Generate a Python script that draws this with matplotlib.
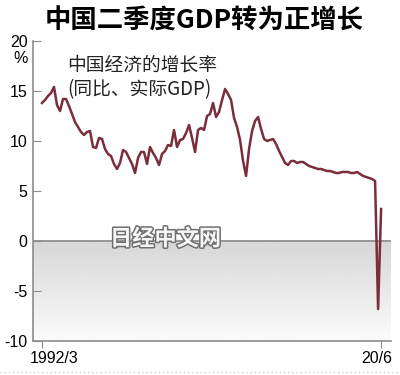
"""China quarterly real GDP growth (YoY), 1992Q1-2020Q2."""

import matplotlib

matplotlib.use("Agg")
import matplotlib.pyplot as plt
import matplotlib.patheffects as pe
import matplotlib.transforms as mtransforms
import numpy as np

TITLE = "中国二季度GDP转为正增长"
SUBTITLE = "中国经济的增长率\n(同比、实际GDP)"
WATERMARK = "日经中文网"

# quarterly YoY growth, % (1992Q1 .. 2020Q2)
growth = [
    13.8, 14.1, 14.5, 14.8, 15.4, 13.6, 13.0, 14.2, 14.2, 13.5,
    12.7, 11.9, 11.4, 10.9, 10.6, 10.9, 11.0, 9.4, 9.3, 10.3,
    10.2, 9.2, 8.7, 8.5, 7.7, 7.2, 7.8, 9.1, 8.9, 8.3,
    7.7, 6.8, 8.3, 8.9, 8.9, 7.7, 9.4, 8.8, 8.3, 7.6,
    8.7, 9.0, 9.6, 9.5, 11.1, 9.4, 10.1, 10.2, 10.8, 11.6,
    10.3, 8.9, 11.1, 11.3, 11.1, 12.5, 12.7, 13.8, 12.4, 12.9,
    14.1, 15.2, 14.7, 14.1, 12.3, 11.4, 10.1, 8.0, 6.5, 9.2,
    11.0, 12.0, 12.4, 11.2, 10.2, 10.0, 10.1, 10.2, 9.7, 9.0,
    8.4, 7.8, 7.6, 8.0, 8.0, 7.8, 7.9, 7.9, 7.7, 7.5,
    7.4, 7.3, 7.2, 7.2, 7.1, 7.0, 7.0, 6.9, 6.8, 6.8,
    6.9, 6.9, 6.9, 6.8, 6.8, 6.9, 6.7, 6.5, 6.4, 6.3,
    6.2, 6.0, -6.8, 3.2,
]
y_ticks = [-10, -5, 0, 5, 10, 15, 20]
x_tick_labels = ["1992/3", "20/6"]

LINE_COLOR = "#7b2d3b"
AXIS_COLOR = "#8c8c8c"

plt.rcParams["font.family"] = ["Liberation Sans", "Noto Sans CJK SC", "DejaVu Sans"]

quarters = np.arange(len(growth))

fig = plt.figure(figsize=(4.0, 3.75), dpi=100)
ax = fig.add_axes([0.0825, 0.0907, 0.895, 0.80])

# shaded negative zone, darker near zero
grad = np.linspace(0.84, 0.985, 256).reshape(-1, 1)
ax.imshow(
    grad,
    cmap="gray",
    vmin=0,
    vmax=1,
    aspect="auto",
    extent=(-3, 116.3, -10, 0),
    origin="upper",
    zorder=0,
)
ax.axhline(0, color=AXIS_COLOR, lw=1.2, zorder=1)

ax.plot(quarters, growth, color=LINE_COLOR, lw=1.8, solid_joinstyle="round", zorder=3)

ax.set_xlim(-3, 116.3)
ax.set_ylim(-10, 20)

for side in ("top", "right"):
    ax.spines[side].set_visible(False)
for side in ("left", "bottom"):
    ax.spines[side].set_color(AXIS_COLOR)
    ax.spines[side].set_linewidth(1.2)

ax.set_yticks(y_ticks)
ax.set_yticklabels([str(v) for v in y_ticks])
ax.tick_params(axis="y", direction="in", length=6, color=AXIS_COLOR, labelsize=11.5, pad=4)

ax.set_xticks([0, len(growth) - 1])
ax.set_xticklabels(x_tick_labels)
ax.tick_params(axis="x", direction="out", length=5, color=AXIS_COLOR, labelsize=11.5, pad=2)
shifts = [12 / 72, -4.5 / 72]
for lbl, dx in zip(ax.get_xticklabels(), shifts):
    lbl.set_transform(lbl.get_transform() + mtransforms.ScaledTranslation(dx * 0.72, 0, fig.dpi_scale_trans))

ax.text(-0.034, 0.94, "%", transform=ax.transAxes, ha="center", va="center", fontsize=11.5)

fig.text(0.51, 0.945, TITLE, ha="center", va="center", fontsize=19,
         fontweight="bold", family=["Noto Sans CJK SC", "DejaVu Sans"])
ax.text(0.095, 0.955, SUBTITLE, transform=ax.transAxes, ha="left", va="top",
        fontsize=13.5, linespacing=1.2, family=["Noto Sans CJK SC", "DejaVu Sans"], color="#222222")

ax.text(0.215, 0.34, WATERMARK, transform=ax.transAxes, ha="left", va="center",
        fontsize=16, fontweight="bold", color="#f6f6f6",
        family=["Noto Sans CJK SC", "DejaVu Sans"], zorder=4,
        path_effects=[pe.withStroke(linewidth=2.2, foreground="#707070")])

fig.add_artist(plt.Line2D([0, 1], [0.008, 0.008], transform=fig.transFigure,
                          color="#cccccc", lw=1, ls=(0, (1, 2))))

fig.savefig("out.png", dpi=100)
